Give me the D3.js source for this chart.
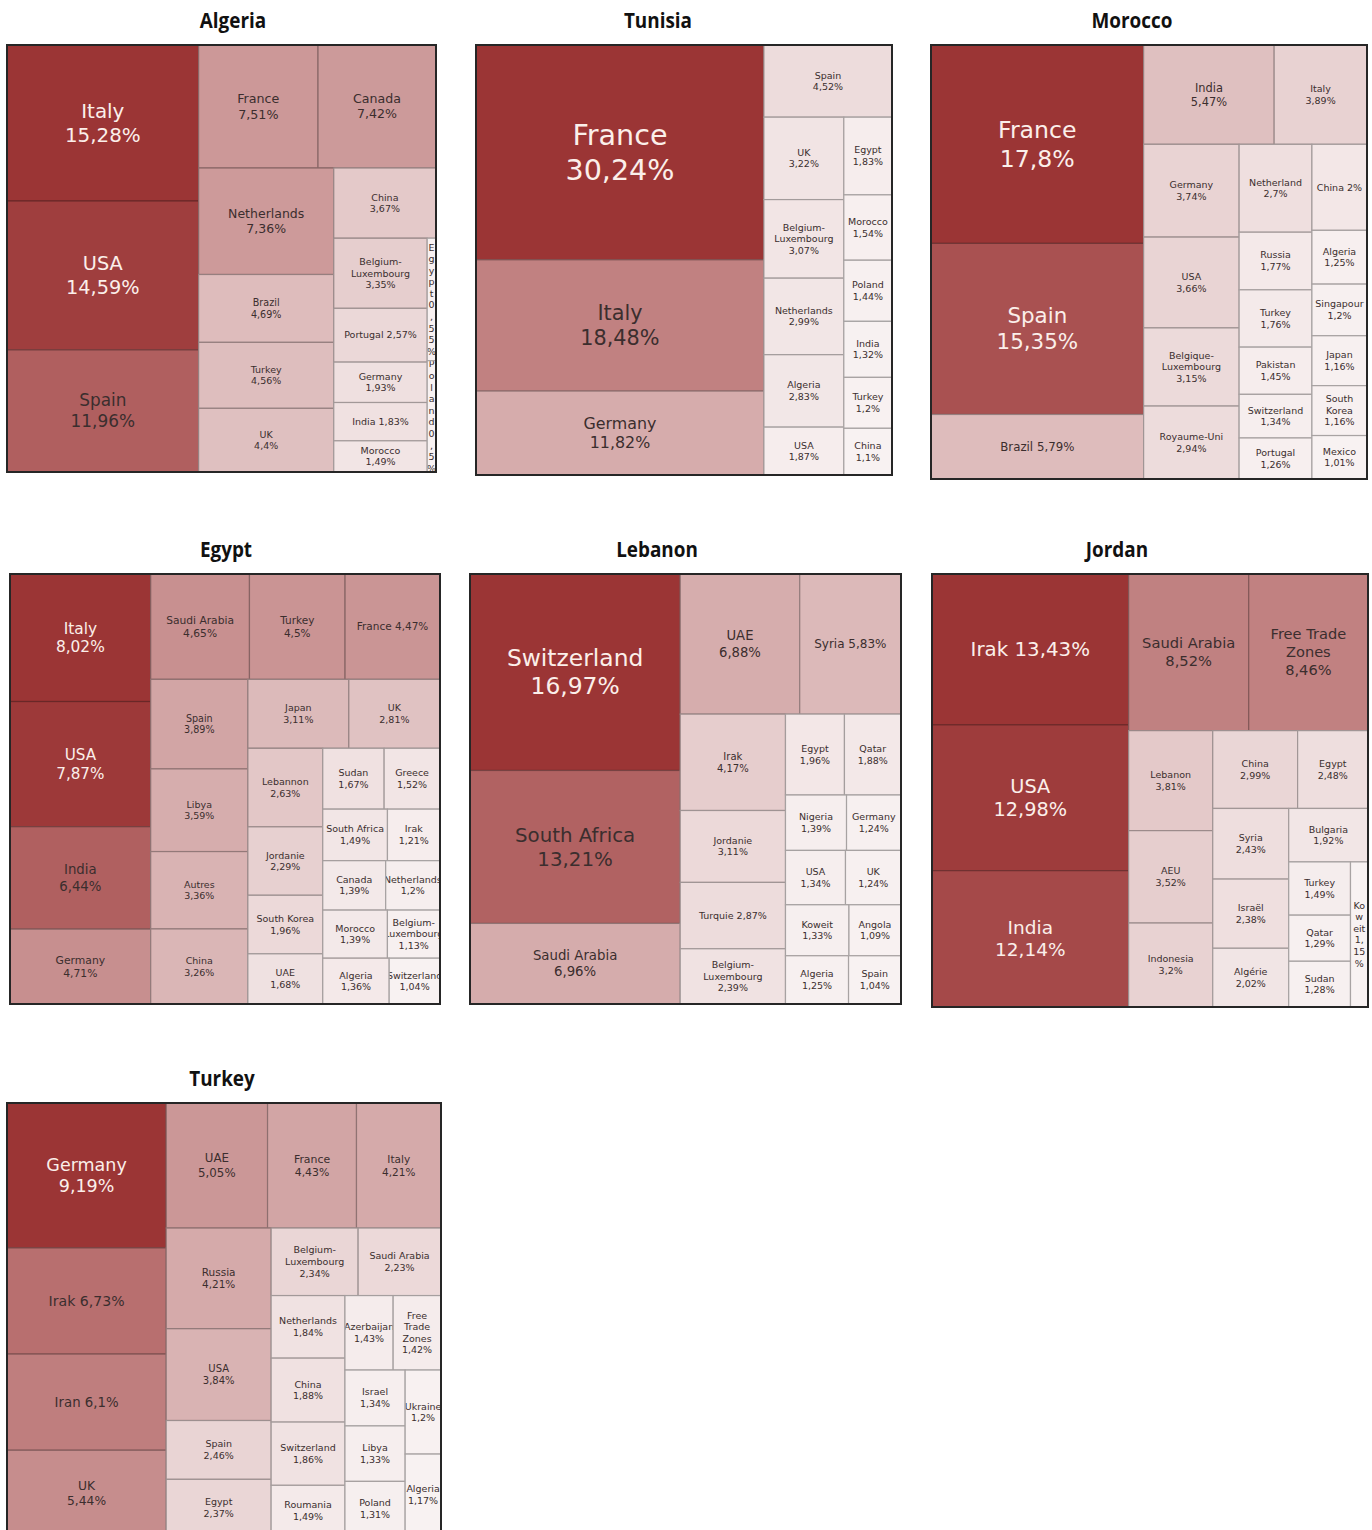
<!DOCTYPE html>
<html>
<head>
<meta charset="utf-8">
<script src="https://cdn.jsdelivr.net/npm/d3@7"></script>
<style>
  html, body { margin: 0; padding: 0; background: #ffffff; }
  svg { display: block; }
</style>
</head>
<body>
<svg id="chart" width="1372" height="1530"></svg>
<script>
// ---------------- DATA ----------------
const algeriaPartners = ["Italy","USA","Spain","France","Canada","Netherlands","Brazil","Turkey","UK","China","Belgium-Luxembourg","Portugal","Germany","India","Morocco","Egypt","Poland"];
const algeriaShares   = [15.28,14.59,11.96,7.51,7.42,7.36,4.69,4.56,4.4,3.67,3.35,2.57,1.93,1.83,1.49,0.55,0.5];
const algeriaStrips   = ["v3","h2","v4","h1","v5","v2"];
const algeriaInline   = ["Portugal","India"];

const tunisiaPartners = ["France","Italy","Germany","Spain","UK","Belgium-Luxembourg","Netherlands","Algeria","USA","Egypt","Morocco","Poland","India","Turkey","China"];
const tunisiaShares   = [30.24,18.48,11.82,4.52,3.22,3.07,2.99,2.83,1.87,1.83,1.54,1.44,1.32,1.2,1.1];
const tunisiaStrips   = ["v3","h1","v5","v6"];
const tunisiaInline   = [];

const moroccoPartners = ["France","Spain","Brazil","India","Italy","Germany","USA","Belgique-Luxembourg","Royaume-Uni","Netherland","Russia","Turkey","Pakistan","Switzerland","Portugal","China","Algeria","Singapour","Japan","South Korea","Mexico"];
const moroccoShares   = [17.8,15.35,5.79,5.47,3.89,3.74,3.66,3.15,2.94,2.7,1.77,1.76,1.45,1.34,1.26,2,1.25,1.2,1.16,1.16,1.01];
const moroccoStrips   = ["v3","h2","v4","v6","v6"];
const moroccoInline   = ["Brazil","China"];

const egyptPartners = ["Italy","USA","India","Germany","Saudi Arabia","Turkey","France","Spain","Libya","Autres","China","Japan","UK","Lebannon","Jordanie","South Korea","UAE","Sudan","Greece","South Africa","Irak","Canada","Netherlands","Morocco","Belgium-Luxembourg","Algeria","Switzerland"];
const egyptShares   = [8.02,7.87,6.44,4.71,4.65,4.5,4.47,3.89,3.59,3.36,3.26,3.11,2.81,2.63,2.29,1.96,1.68,1.67,1.52,1.49,1.21,1.39,1.2,1.39,1.13,1.36,1.04];
const egyptStrips   = ["v4","h3","v4","h2","v4","h2","h2","h2","h2","h2"];
const egyptInline   = ["France","Irak"];

const lebanonPartners = ["Switzerland","South Africa","Saudi Arabia","UAE","Syria","Irak","Jordanie","Turquie","Belgium-Luxembourg","Egypt","Qatar","Nigeria","Germany","USA","UK","Koweit","Angola","Algeria","Spain"];
const lebanonShares   = [16.97,13.21,6.96,6.88,5.83,4.17,3.11,2.87,2.39,1.96,1.88,1.39,1.24,1.34,1.24,1.33,1.09,1.25,1.04];
const lebanonStrips   = ["v3","h2","v4","h2","h2","h2","h2","h2"];
const lebanonInline   = ["Syria","Turquie"];

const jordanPartners = ["Irak","USA","India","Saudi Arabia","Free Trade Zones","Lebanon","AEU","Indonesia","China","Egypt","Syria","Israël","Algérie","Bulgaria","Turkey","Qatar","Sudan","Koweit"];
const jordanShares   = [13.43,12.98,12.14,8.52,8.46,3.81,3.52,3.2,2.99,2.48,2.43,2.38,2.02,1.92,1.49,1.29,1.28,1.15];
const jordanStrips   = ["v3","h2","v3","h2","v3","h1","v3","v1"];
const jordanInline   = ["Irak"];

const turkeyPartners = ["Germany","Irak","Iran","UK","UAE","France","Italy","Russia","USA","Spain","Egypt","Belgium-Luxembourg","Saudi Arabia","Netherlands","China","Switzerland","Roumania","Azerbaijan","Free Trade Zones","Israel","Libya","Poland","Ukraine","Algeria"];
const turkeyShares   = [9.19,6.73,6.1,5.44,5.05,4.43,4.21,4.21,3.84,2.46,2.37,2.34,2.23,1.84,1.88,1.86,1.49,1.43,1.42,1.34,1.33,1.31,1.2,1.17];
const turkeyStrips   = ["v4","h3","v4","h2","v4","h2","v3","v2"];
const turkeyInline   = ["Irak","Iran","Ukraine"];

// ---------------- PANELS (layout) ----------------
const panels = [
  {title:"Algeria", partners:algeriaPartners, shares:algeriaShares, strips:algeriaStrips, inline:algeriaInline, x:7,   y:45,   w:429, h:427, tx:233},
  {title:"Tunisia", partners:tunisiaPartners, shares:tunisiaShares, strips:tunisiaStrips, inline:tunisiaInline, x:476, y:45,   w:416, h:430, tx:658},
  {title:"Morocco", partners:moroccoPartners, shares:moroccoShares, strips:moroccoStrips, inline:moroccoInline, x:931, y:45,   w:436, h:434, tx:1132},
  {title:"Egypt",   partners:egyptPartners,   shares:egyptShares,   strips:egyptStrips,   inline:egyptInline,   x:10,  y:574,  w:430, h:430, tx:226},
  {title:"Lebanon", partners:lebanonPartners, shares:lebanonShares, strips:lebanonStrips, inline:lebanonInline, x:470, y:574,  w:431, h:430, tx:657},
  {title:"Jordan",  partners:jordanPartners,  shares:jordanShares,  strips:jordanStrips,  inline:jordanInline,  x:932, y:574,  w:436, h:433, tx:1117},
  {title:"Turkey",  partners:turkeyPartners,  shares:turkeyShares,  strips:turkeyStrips,  inline:turkeyInline,  x:7,   y:1103, w:434, h:433, tx:222}
];

const LABEL_FONT = '"DejaVu Sans", Verdana, sans-serif';
const MIN_FS = 9.5;
const LH = 1.22;
const canvas = document.createElement("canvas");
const ctx = canvas.getContext("2d");
function measure(text, fs) { ctx.font = fs + "px " + LABEL_FONT; return ctx.measureText(text).width; }
function fmt(v) { return String(v).replace(".", ",") + "%"; }

function tokensOf(str) {
  const out = [];
  str.split(" ").forEach((word, wi) => {
    const parts = word.split(/(?<=-)/);
    parts.forEach((p, pi) => out.push({text: p, sep: (pi === 0 && (wi > 0)) ? " " : ""}));
  });
  return out;
}
function wrap(tokens, maxW, fs) {
  const lines = []; let cur = "";
  tokens.forEach(tok => {
    const cand = cur ? cur + tok.sep + tok.text : tok.text;
    if (measure(cand, fs) <= maxW) { cur = cand; return; }
    if (cur) { lines.push(cur); cur = ""; }
    if (measure(tok.text, fs) <= maxW * 1.3) { cur = tok.text; return; }
    let piece = "";
    for (const ch of tok.text) {
      if (piece === "" || measure(piece + ch, fs) <= maxW) piece += ch;
      else { lines.push(piece); piece = ch; }
    }
    cur = piece;
  });
  if (cur) lines.push(cur);
  return lines;
}
function tooWide(tokens, maxW, fs) { return tokens.some(t => measure(t.text, fs) > maxW); }

function stripTile(strips) {
  return function(parent, x0, y0, x1, y1) {
    const kids = parent.children; let i = 0; let rem = parent.value;
    strips.forEach(s => {
      const dir = s[0], n = +s.slice(1);
      const group = kids.slice(i, i + n); i += n;
      const sum = d3.sum(group, d => d.value);
      const row = {children: group, value: sum};
      if (dir === "v") {
        const xe = x0 + (x1 - x0) * sum / rem;
        d3.treemapSlice(row, x0, y0, xe, y1); x0 = xe;
      } else {
        const ye = y0 + (y1 - y0) * sum / rem;
        d3.treemapDice(row, x0, y0, x1, ye); y0 = ye;
      }
      rem -= sum;
    });
  };
}

const svg = d3.select("#chart");
let clipId = 0;

panels.forEach(p => {
  const items = p.partners.map((name, i) => ({name, value: p.shares[i], inline: p.inline.includes(name)}));
  const root = d3.hierarchy({children: items}).sum(d => d.value || 0);
  d3.treemap().size([p.w, p.h]).round(false).tile(stripTile(p.strips))(root);

  const color = d3.scaleLinear().domain(d3.extent(p.shares)).range(["#f8f2f2", "#9b3535"]).interpolate(d3.interpolateRgb);
  const tScale = d3.scaleLinear().domain(d3.extent(p.shares)).range([0, 1]);

  svg.append("text")
    .attr("x", p.tx).attr("y", p.y - 17)
    .attr("text-anchor", "middle")
    .attr("transform", `translate(${p.tx},0) scale(0.9,1) translate(${-p.tx},0)`)
    .style("font-family", '"Liberation Sans Narrow", "Open Sans", sans-serif')
    .style("font-weight", "bold")
    .style("font-size", "21px")
    .style("fill", "#111")
    .text(p.title);

  const g = svg.append("g").attr("transform", `translate(${p.x},${p.y})`);
  const leaves = root.leaves();

  const cell = g.selectAll("g.cell").data(leaves).join("g").attr("class", "cell");
  cell.append("rect")
    .attr("x", d => d.x0).attr("y", d => d.y0)
    .attr("width", d => d.x1 - d.x0).attr("height", d => d.y1 - d.y0)
    .attr("fill", d => color(d.data.value))
    .attr("stroke", d => d3.color(color(d.data.value)).darker(1.1))
    .attr("stroke-width", 1.2);

  cell.each(function(d) {
    const w = d.x1 - d.x0, h = d.y1 - d.y0;
    const t = tScale(d.data.value);
    const id = "clip" + (clipId++);
    const sel = d3.select(this);
    sel.append("clipPath").attr("id", id).append("rect")
      .attr("x", d.x0 + 0.5).attr("y", d.y0 + 0.5).attr("width", Math.max(0, w - 1)).attr("height", Math.max(0, h - 1));
    const maxW = Math.max(4, w - 4);
    const nameTok = tokensOf(d.data.inline ? d.data.name + " " + fmt(d.data.value) : d.data.name);
    const valTok = d.data.inline ? [] : tokensOf(fmt(d.data.value));
    let fs = Math.max(MIN_FS, Math.sqrt(w * h) * (0.095 + 0.02 * t));
    let lines;
    for (let k = 0; k < 80; k++) {
      lines = wrap(nameTok, maxW, fs).concat(valTok.length ? wrap(valTok, maxW, fs) : []);
      const fits = !tooWide(nameTok.concat(valTok), maxW, fs) && lines.length * fs * LH <= h - 2;
      if (fits || fs <= MIN_FS) break;
      fs = Math.max(MIN_FS, fs - 0.5);
    }
    const lh = fs * LH;
    const cx = (d.x0 + d.x1) / 2, cy = (d.y0 + d.y1) / 2;
    const top = cy - lines.length * lh / 2;
    const txt = sel.append("text")
      .attr("clip-path", `url(#${id})`)
      .attr("text-anchor", "middle")
      .style("font-family", LABEL_FONT)
      .style("font-size", fs.toFixed(1) + "px")
      .style("fill", t > 0.8 ? "#fbefea" : "#3b2e2e");
    lines.forEach((ln, i) => {
      txt.append("tspan").attr("x", cx).attr("y", top + lh * i + lh * 0.78).text(ln);
    });
  });

  g.append("rect").attr("x", 0).attr("y", 0).attr("width", p.w).attr("height", p.h)
    .attr("fill", "none").attr("stroke", "#262626").attr("stroke-width", 2);
});
</script>
</body>
</html>
